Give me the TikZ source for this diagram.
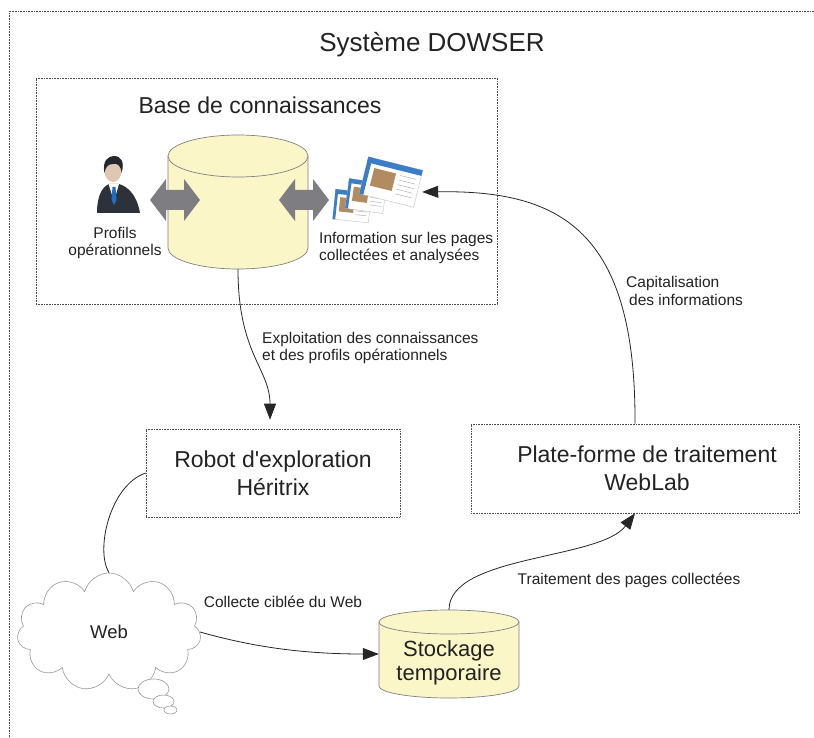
\documentclass[tikz,border=0pt]{standalone}
\usepackage{fontspec}
\setmainfont{Liberation Sans}[Ligatures=TeXOff]
\usetikzlibrary{arrows.meta,shapes.symbols}
\definecolor{dbyellow}{RGB}{250,246,200}
\definecolor{dbedge}{RGB}{128,128,128}
\definecolor{arrowgray}{RGB}{126,126,130}
\definecolor{txtgray}{RGB}{34,34,34}
\definecolor{suit}{RGB}{45,50,58}
\definecolor{skin}{RGB}{222,200,178}
\definecolor{tieblue}{RGB}{30,110,200}
\definecolor{pageblue}{RGB}{60,125,200}
\definecolor{photo}{RGB}{176,140,96}

% cylinder: x, top y, bottom y, x radius, y radius
\newcommand{\dbcylinder}[5]{%
  \draw[dbedge, fill=dbyellow, line width=0.7pt] ({#1-#4},#2) -- ({#1-#4},#3)
    arc[start angle=180, end angle=0, x radius=#4, y radius=#5] -- ({#1+#4},#2);
  \draw[dbedge, fill=dbyellow, line width=0.7pt] (#1,#2) ellipse[x radius=#4, y radius=#5];
}
% grey double arrow: left x, right x, mid y
\newcommand{\biarrow}[3]{%
  \fill[arrowgray] (#1,#3) -- ({#1+16},{#3-21}) -- ({#1+16},{#3-10}) -- ({#2-16},{#3-10})
    -- ({#2-16},{#3-21}) -- (#2,#3) -- ({#2-16},{#3+21}) -- ({#2-16},{#3+10})
    -- ({#1+16},{#3+10}) -- ({#1+16},{#3+21}) -- cycle;
}
% small web page: x, y, angle, half width, half height
\newcommand{\webpage}[5]{%
  \begin{scope}[shift={(#1,#2)}, rotate=#3]
    \draw[gray!50, line width=0.4pt, fill=white] (-#4,-#5) rectangle (#4,#5);
    \fill[pageblue] (-#4,-#5) rectangle (#4,{-0.7*#5});
    \fill[pageblue] (-#4,-#5) rectangle ({-0.85*#4},#5);
    \fill[photo] ({-0.7*#4},{-0.5*#5}) rectangle ({0.1*#4},{0.45*#5});
    \foreach \k in {-0.45,-0.2,0.05,0.3,0.55}
      \draw[gray!60, line width=0.5pt] ({0.25*#4},{\k*#5}) -- ({0.85*#4},{\k*#5});
  \end{scope}
}

\begin{document}
\begin{tikzpicture}[x=1pt, y=-1pt,
    every node/.style={text=txtgray},
    dotbox/.style={draw=black!70, line width=0.6pt, dash pattern=on 0.8pt off 0.8pt},
    holder/.style={inner sep=0pt},
    flowarrow/.style={draw=black!85, line width=0.8pt, -{Triangle[length=16pt,width=12pt]}},
    plainlink/.style={draw=black!85, line width=0.8pt},
    lbl/.style={font=\fontsize{15.5}{17.5}\selectfont, inner sep=1pt, align=left},
    boxtext/.style={font=\fontsize{23}{28}\selectfont, align=center}]
    \useasboundingbox (0,0) rectangle (814,738);

    % outer frame (right and bottom edges run off the page)
    \draw[dotbox] (9.5,11.5) rectangle (840,760);
    \node[font=\fontsize{26}{30}\selectfont] (title) at (432,45) {Système DOWSER};

    % knowledge base
    \node[dotbox, minimum width=461pt, minimum height=226pt] (kbbox) at (266.5,191) {};
    \node[boxtext] (kbtitle) at (260,105) {Base de connaissances};
    \node[holder, minimum width=140pt, minimum height=134pt] (kb) at (238,202) {};
    \dbcylinder{238}{156}{248}{70}{21}
    \biarrow{150}{200}{200}
    \biarrow{279}{329}{200}

    % user profile icon
    \node[holder, minimum width=44pt, minimum height=58pt] (user) at (118,185) {};
    \fill[suit] (97,213) .. controls (97,196) and (102,187) .. (109,184) -- (119,184)
      .. controls (129,187) and (137,196) .. (140,213) -- cycle;
    \fill[white] (108.5,184) -- (119,184) -- (114,201) -- cycle;
    \fill[tieblue] (112.5,187) -- (115.5,187) -- (116.5,200) -- (114,205) -- (111.5,200) -- cycle;
    \fill[skin] (113,171) ellipse[x radius=8.5, y radius=11];
    \fill[suit!80!black] (104.5,173) .. controls (102,161) and (108,156) .. (114,156)
      .. controls (121,156) and (125,162) .. (121.5,173) .. controls (121,166) and (118,163) .. (113,164)
      .. controls (108,164) and (105.5,167) .. (104.5,173) -- cycle;
    \node[lbl, align=center] (lbluser) at (115,243) {Profils\\opérationnels};

    % stack of analysed pages
    \node[holder, minimum width=90pt, minimum height=72pt] (pages) at (377,192) {};
    \webpage{352}{206}{-6}{18}{15}
    \webpage{366}{196}{-8}{19}{15}
    \webpage{391}{182}{-14}{28}{19}
    \node[lbl, anchor=west] (lblpages) at (318,248) {Information sur les pages\\collectées et analysées};

    % crawler and processing platform
    \node[dotbox, boxtext, minimum width=254pt, minimum height=88pt] (robot) at (273,473)
      {Robot d'exploration\\Héritrix};
    \node[dotbox, minimum width=328pt, minimum height=89pt,
      label={[boxtext, xshift=12pt]center:{Plate-forme de traitement\\WebLab}}] (weblab) at (635,468.5) {};

    % the web
    \node[cloud, draw=gray!80, line width=0.6pt, cloud puffs=11, aspect=1.5, fill=white,
      minimum width=184pt, minimum height=118pt, font=\fontsize{18.5}{22}\selectfont] (web) at (109,632) {Web};
    \draw[gray!80, line width=0.6pt, fill=white] (153.5,689) ellipse[x radius=15.5, y radius=10];
    \draw[gray!80, line width=0.6pt, fill=white] (163.5,701.5) ellipse[x radius=10.5, y radius=6.5];
    \draw[gray!80, line width=0.6pt, fill=white] (170.5,710) ellipse[x radius=6.5, y radius=4];

    % temporary storage
    \node[holder, minimum width=140pt, minimum height=88pt] (stock) at (449,654) {};
    \dbcylinder{449}{622}{686}{70}{12}
    \node[font=\fontsize{22}{24.5}\selectfont, align=center] (stocktxt) at (449,663) {Stockage\\temporaire};

    % connectors
    \draw[flowarrow, shorten >=9pt] (kb.south) .. controls +(0,85) and +(0,-60) .. ([xshift=-3pt]robot.north);
    \node[lbl, anchor=west] (lblexpl) at (261,348) {Exploitation des connaissances\\et des profils opérationnels};

    \draw[flowarrow] (weblab.north) .. controls (636,230) and (560,190) .. (pages.east);
    \node[lbl, anchor=west] (lblcap) at (625,291) {Capitalisation\\\hspace*{3pt}des informations};

    \draw[plainlink] (robot.west) .. controls (110,485) and (95,550) .. (web.north);

    \draw[flowarrow] (web.east) .. controls +(50,14) and +(-80,0) .. (stock.west);
    \node[lbl] (lblweb) at (283,602) {Collecte ciblée du Web};

    \draw[flowarrow] (stock.north) .. controls +(0,-55) and (600,560) .. (weblab.south);
    \node[lbl] (lbltrt) at (629,580) {Traitement des pages collectées};
\end{tikzpicture}
\end{document}
